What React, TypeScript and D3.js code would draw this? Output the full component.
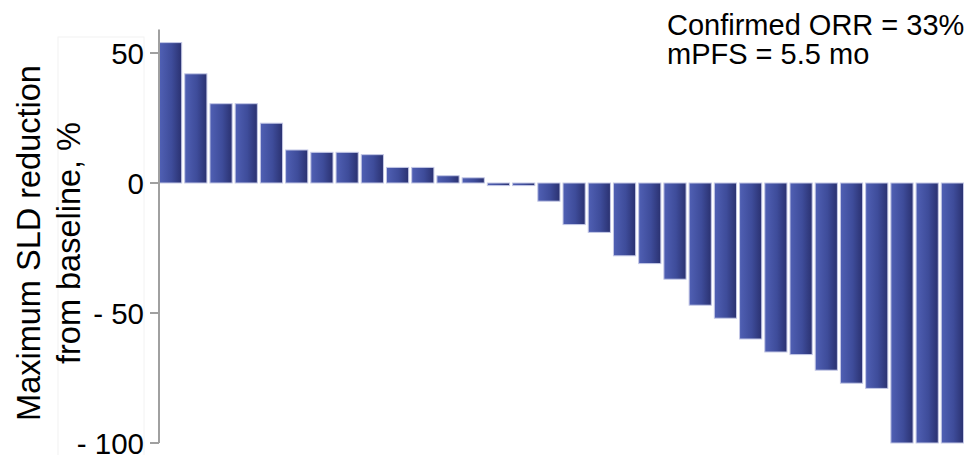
import React, { useEffect, useRef } from 'react';
import * as d3 from 'd3';

// per-patient maximum change in sum of longest diameters (%)
const patients = d3.range(1, 33).map((i) => `P${i}`);
const sldChange = [
  54, 42, 30.5, 30.5, 23, 12.7, 11.8, 11.8, 10.9, 6, 6, 2.8, 2, -1, -1, -7,
  -16, -19, -28, -31, -37, -47, -52, -60, -65, -66, -72, -77, -79, -100, -100, -100,
];
const yTicks = [50, 0, -50, -100];
const yTickLabels = ['50', '0', '- 50', '- 100'];
const axisLabelLines = ['Maximum SLD reduction', 'from baseline, %'];
const noteLines = ['Confirmed ORR = 33%', 'mPFS = 5.5 mo'];

const width = 975;
const height = 455;
const font = 'Arial, "Liberation Sans", sans-serif';

const WaterfallChart: React.FC = () => {
  const svgRef = useRef<SVGSVGElement>(null);

  useEffect(() => {
    if (!svgRef.current) return;
    document.body.style.margin = '0';

    const svg = d3.select(svgRef.current);
    svg.selectAll('*').remove();

    const x = d3.scaleBand<string>()
      .domain(patients)
      .range([159.5, 963.5])
      .paddingInner(0.12)
      .paddingOuter(0);

    const y = d3.scaleLinear()
      .domain([-100, 50])
      .range([443, 53]);

    const axisX = 159;

    // gradient for the bars (lighter on the left, darker on the right)
    const defs = svg.append('defs');
    const grad = defs.append('linearGradient')
      .attr('id', 'barGrad')
      .attr('x1', '0%').attr('x2', '100%')
      .attr('y1', '0%').attr('y2', '0%');
    grad.append('stop').attr('offset', '0%').attr('stop-color', '#5060b4');
    grad.append('stop').attr('offset', '55%').attr('stop-color', '#3e4c9a');
    grad.append('stop').attr('offset', '100%').attr('stop-color', '#2a3170');

    // faint text box outline behind the axis label
    svg.append('rect')
      .attr('x', 58)
      .attr('y', 37)
      .attr('width', 86)
      .attr('height', 420)
      .attr('fill', 'none')
      .attr('stroke', '#f2f2f2')
      .attr('stroke-width', 1);

    // bars
    svg.append('g')
      .selectAll('rect')
      .data(sldChange)
      .join('rect')
      .attr('x', (_, i) => x(patients[i]) as number)
      .attr('y', (d) => y(Math.max(0, d)))
      .attr('width', x.bandwidth())
      .attr('height', (d) => Math.abs(y(d) - y(0)))
      .attr('fill', 'url(#barGrad)')
      .attr('stroke', '#c4c8e6')
      .attr('stroke-width', 1);

    // y axis
    const axis = svg.append('g');
    axis.append('line')
      .attr('x1', axisX).attr('x2', axisX)
      .attr('y1', y(59)).attr('y2', y(-100))
      .attr('stroke', '#a0a0a0')
      .attr('stroke-width', 2);

    axis.selectAll('line.tick')
      .data(yTicks)
      .join('line')
      .attr('class', 'tick')
      .attr('x1', 150).attr('x2', axisX)
      .attr('y1', (d) => y(d)).attr('y2', (d) => y(d))
      .attr('stroke', '#a0a0a0')
      .attr('stroke-width', 2);

    axis.selectAll('text')
      .data(yTicks)
      .join('text')
      .attr('x', 144)
      .attr('y', (d) => y(d))
      .attr('dy', '0.36em')
      .attr('text-anchor', 'end')
      .style('font-family', font)
      .style('font-size', '29.5px')
      .style('fill', '#000')
      .style('white-space', 'pre')
      .text((_, i) => yTickLabels[i]);

    // axis title
    svg.append('g')
      .selectAll('text')
      .data(axisLabelLines)
      .join('text')
      .attr('transform', (_, i) => `translate(${40 + i * 40},243) rotate(-90)`)
      .attr('text-anchor', 'middle')
      .style('font-family', font)
      .style('font-size', '32.5px')
      .style('fill', '#000')
      .text((d) => d);

    // annotation
    svg.append('g')
      .selectAll('text')
      .data(noteLines)
      .join('text')
      .attr('x', 667)
      .attr('y', (_, i) => 35 + i * 29)
      .style('font-family', font)
      .style('font-size', '29px')
      .style('fill', '#000')
      .text((d) => d);
  }, []);

  return (
    <svg
      ref={svgRef}
      width={width}
      height={height}
      style={{ display: 'block', background: '#fff' }}
    />
  );
};

export default function App() {
  return <WaterfallChart />;
}
